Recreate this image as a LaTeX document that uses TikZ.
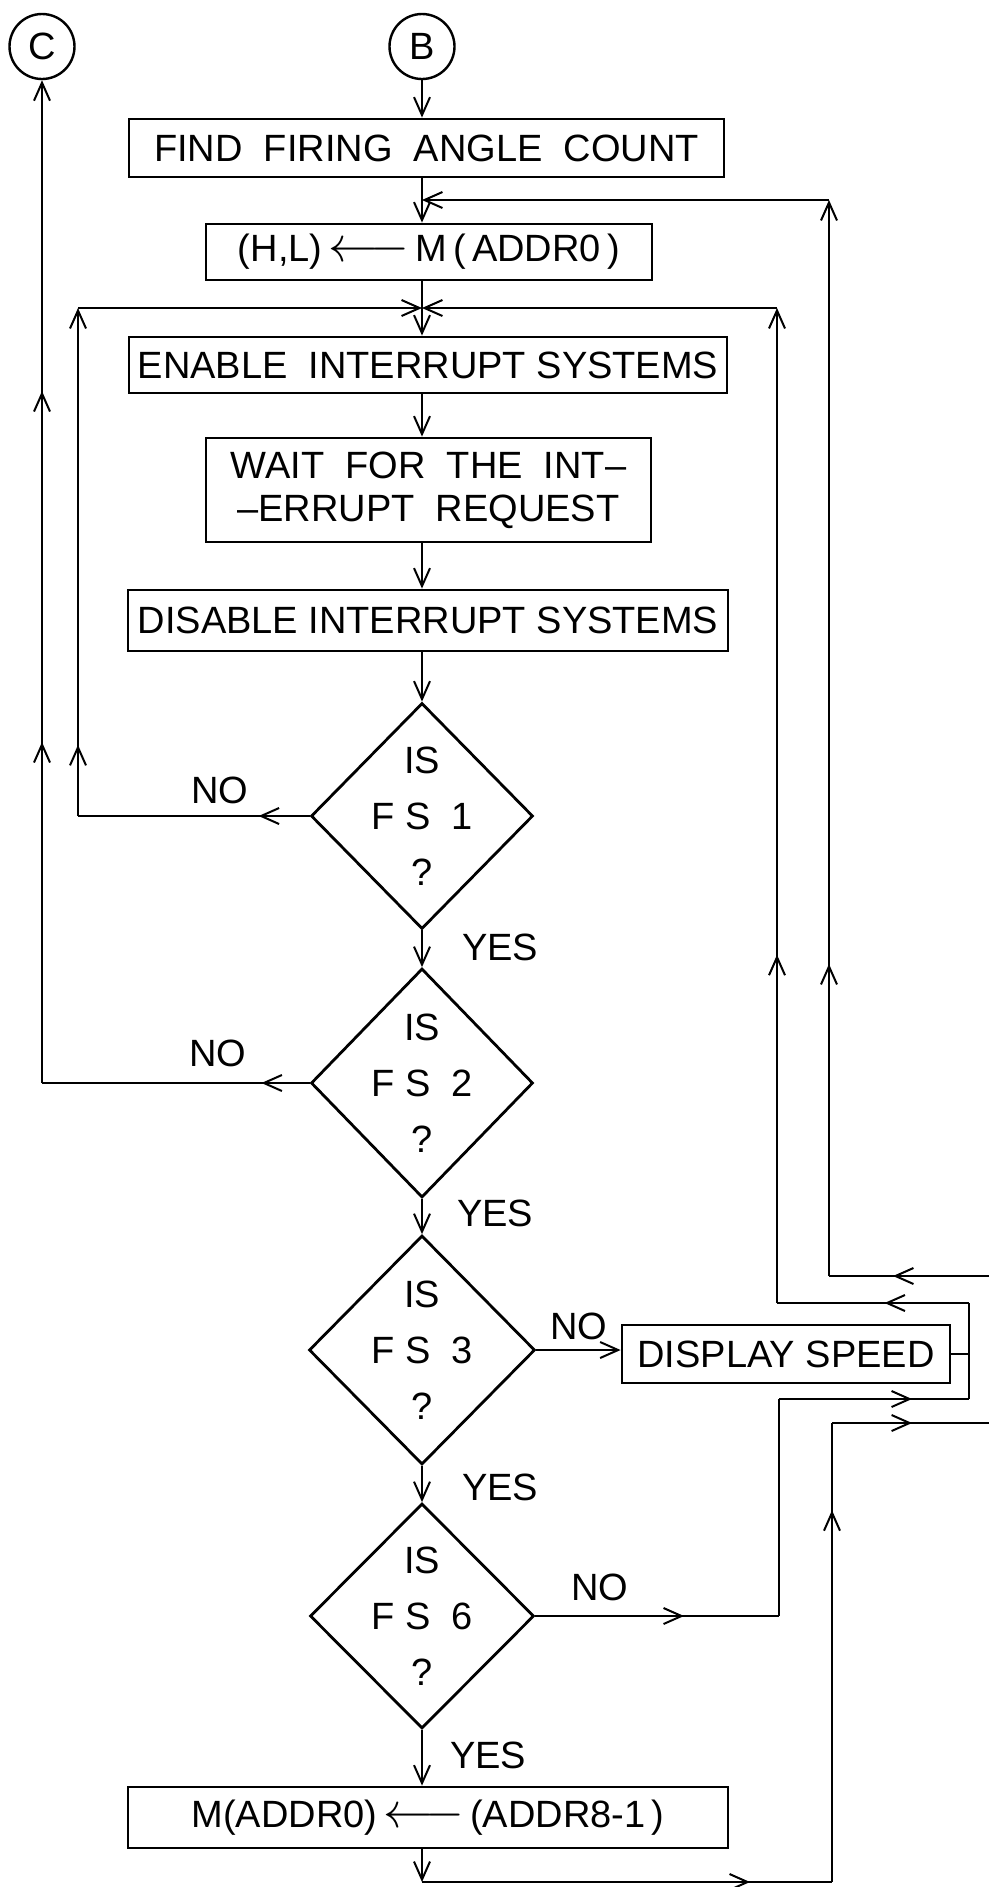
\documentclass[tikz,border=0pt]{standalone}
\usepackage{fontspec}
\setmainfont{Liberation Sans}
\usepackage{graphicx}
\usetikzlibrary{arrows.meta, shapes.geometric, positioning, decorations.markings}
\tikzset{
  >={Straight Barb[length=9pt, width=8pt]},
  flow/.style      = {line width=1pt},
  box/.style       = {draw, rectangle, line width=1.4pt, inner sep=0pt, align=center},
  decision/.style  = {draw, diamond, line width=1.4pt, inner sep=0pt},
  connector/.style = {draw, circle, line width=1.2pt, minimum size=32.5pt, inner sep=0pt},
  fslab/.style     = {align=center, font=\fontsize{19}{28}\selectfont},
  tipat/.style     = {postaction={decorate, decoration={markings,
                      mark=at position #1 with {\arrow{>}}}}},
}
\newcommand{\lar}{\,{\fontsize{25}{25}\selectfont$\longleftarrow$}\,}

\begin{document}
\begin{tikzpicture}[x=0.5pt, y=-0.5pt,
  every node/.style = {font=\fontsize{19}{21.5}\selectfont}]
  \useasboundingbox (0,0) rectangle (989,1887);

  % off-page connectors
  \node[connector] (C) at (42,46.5)  {C};
  \node[connector] (B) at (422,46.5) {B};

  % main column
  \node[box, minimum width=297.5pt, minimum height=29pt]   (find)    at (426.5,148) {FIND\ \ FIRING\ \ ANGLE\ \ COUNT};
  \node[box, minimum width=223pt,   minimum height=28pt]   (load)    at (429,252)   {(H,L)\lar M\,(\,ADDR0\,)};
  \node[box, minimum width=299pt,   minimum height=28pt]   (enable)  at (428,365)   {ENABLE\ \ INTERRUPT SYSTEMS};
  \node[box, minimum width=222.5pt, minimum height=52pt]   (wait)    at (428.5,490) {WAIT\ \ FOR\ \ THE\ \ INT--\\--ERRUPT\ \ REQUEST};
  \node[box, minimum width=300pt,   minimum height=30.5pt] (disable) at (428,620.5) {DISABLE INTERRUPT SYSTEMS};

  \node[decision, minimum width=111pt, minimum height=113pt,
        label={[fslab]center:IS\\F S\ \ 1\\?}] (fs1) at (422,816)  {};
  \node[decision, minimum width=111pt, minimum height=114.5pt,
        label={[fslab]center:IS\\F S\ \ 2\\?}] (fs2) at (422,1083) {};
  \node[decision, minimum width=113pt, minimum height=114.5pt,
        label={[fslab]center:IS\\F S\ \ 3\\?}] (fs3) at (422,1350) {};
  \node[decision, minimum width=112pt, minimum height=112.5pt,
        label={[fslab]center:IS\\F S\ \ 6\\?}] (fs6) at (422,1616) {};

  \node[box, minimum width=164pt, minimum height=29pt]   (disp)  at (786,1354)   {DISPLAY SPEED};
  \node[box, minimum width=300pt, minimum height=30.5pt] (store) at (428,1817.5) {M(ADDR0)\lar(ADDR8-1\,)};

  % branch labels
  \node (no1) at (220,790)  {NO};
  \node (no2) at (218,1053) {NO};
  \node (no3) at (579,1326) {NO};
  \node (no4) at (600,1587) {NO};
  \node[anchor=west] (yes1) at (455,947)  {YES};
  \node[anchor=west] (yes2) at (450,1213) {YES};
  \node[anchor=west] (yes3) at (455,1487) {YES};
  \node[anchor=west] (yes4) at (443,1755) {YES};

  % bends
  \coordinate (top1) at (422,200);
  \coordinate (top2) at (422,308);
  \coordinate (inR)  at (989,1276);
  \coordinate (r1)   at (829,1276);
  \coordinate (r2)   at (829,200);
  \coordinate (k2)   at (969,1303);
  \coordinate (k3)   at (777,1303);
  \coordinate (k4)   at (777,308);
  \coordinate (k5)   at (969,1399);
  \coordinate (m1)   at (779,1616);
  \coordinate (m2)   at (779,1399);
  \coordinate (l1)   at (78,816);
  \coordinate (l2)   at (78,308);
  \coordinate (c1)   at (42,1083);
  \coordinate (b1)   at (422,1882);
  \coordinate (b2)   at (832,1882);
  \coordinate (b3)   at (832,1423);
  \coordinate (outR) at (989,1423);

  % straight flow
  \draw[flow, ->] (B) -- (B |- find.north);
  \foreach \a/\b in {find/load, load/enable, enable/wait, wait/disable,
                     disable/fs1, fs1/fs2, fs2/fs3, fs3/fs6, fs6/store}
    \draw[flow, ->] (\a.south -| B) -- (\b.north -| B);
  \draw[flow, ->] (fs3.east) -- (fs3.east -| disp.west);

  % return from the right edge
  \draw[flow, tipat=0.6] (inR) -- (r1);
  \draw[flow, ->, tipat=0.29] (r1) -- (r2);
  \draw[flow, ->] (r2) -- (top1);

  % display speed / FS 6 loop
  \draw[flow] (disp.east) -- (disp.east -| k2);
  \draw[flow] (k5) -- (k2);
  \draw[flow, tipat=0.44] (k2) -- (k3);
  \draw[flow, ->, tipat=0.35] (k3) -- (k4);
  \draw[flow, ->] (k4) -- (top2);
  \draw[flow, tipat=0.61] (fs6.east) -- (m1);
  \draw[flow] (m1) -- (m2);
  \draw[flow, tipat=0.7] (m2) -- (k5);

  % FS 1 loop
  \draw[flow, tipat=0.22] (fs1.west) -- (l1);
  \draw[flow, ->, tipat=0.14] (l1) -- (l2);
  \draw[flow, ->] (l2) -- (top2);

  % FS 2 to C
  \draw[flow, tipat=0.18] (fs2.west) -- (c1);
  \draw[flow, ->, tipat=0.34, tipat=0.69] (c1) -- (C.south);

  % out at the bottom
  \draw[flow, ->] (store.south -| B) -- (b1);
  \draw[flow, tipat=0.8] (b1) -- (b2);
  \draw[flow, tipat=0.81] (b2) -- (b3);
  \draw[flow, tipat=0.51] (b3) -- (outR);
\end{tikzpicture}
\end{document}
